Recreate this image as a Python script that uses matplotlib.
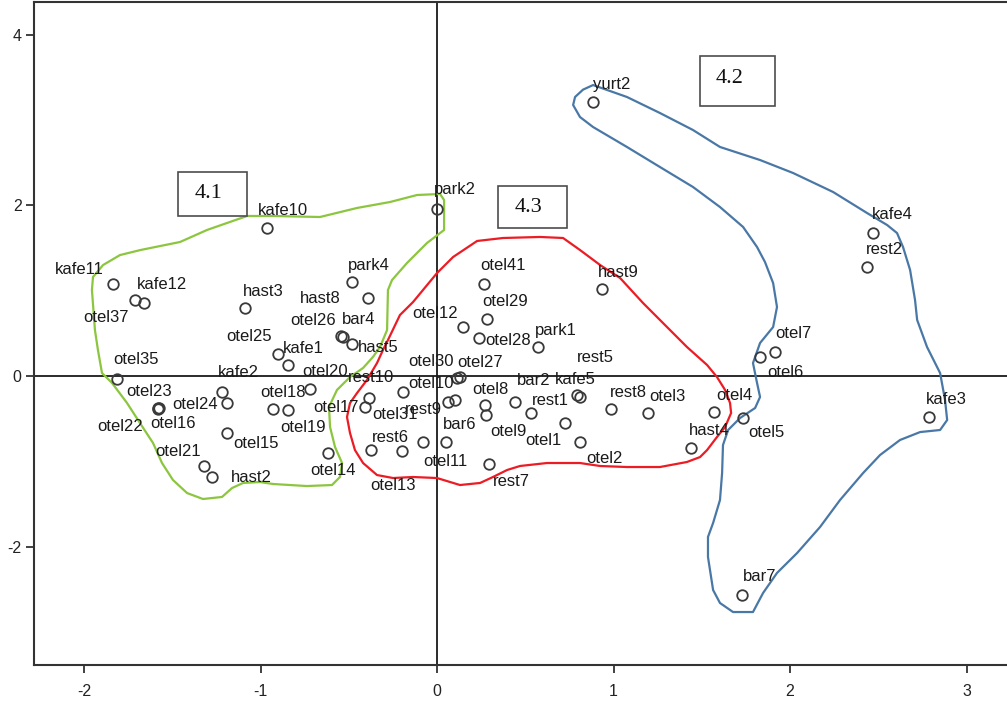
import matplotlib
matplotlib.use("Agg")
import matplotlib.pyplot as plt
import numpy as np
from matplotlib.patches import Rectangle, Polygon

plt.rcParams["font.family"] = ["Liberation Sans", "DejaVu Sans"]
plt.rcParams["axes.unicode_minus"] = False

# point names and coordinates (dimension 1, dimension 2)
names = [
    "kafe11", "otel37", "kafe12", "kafe10", "hast3", "park4", "hast8", "otel26",
    "bar4", "hast5", "otel25", "kafe1", "otel35", "otel23", "otel16", "otel22",
    "kafe2", "otel24", "otel15", "otel21", "hast2", "otel20", "otel18", "otel19",
    "otel14", "otel17",
    "park2", "otel41", "otel29", "otel12", "otel28", "park1", "otel30", "otel27",
    "rest10", "otel10", "otel31", "rest9", "otel8", "bar2", "kafe5", "rest5",
    "rest1", "otel9", "otel1", "rest8", "otel3", "otel4", "hast4", "otel2",
    "rest7", "rest6", "otel13", "otel11", "bar6", "hast9",
    "yurt2", "kafe4", "rest2", "otel7", "otel6", "otel5", "kafe3", "bar7",
]
dim1 = [
    -1.836, -1.711, -1.660, -0.963, -1.088, -0.482, -0.391, -0.544,
    -0.533, -0.482, -0.901, -0.844, -1.813, -1.581, -1.575, -1.581,
    -1.218, -1.190, -1.190, -1.320, -1.275, -0.720, -0.929, -0.844,
    -0.618, -0.408,
    0.000, 0.266, 0.283, 0.147, 0.238, 0.572, 0.113, 0.130,
    -0.385, -0.193, 0.102, 0.062, 0.272, 0.442, 0.793, 0.810,
    0.533, 0.278, 0.725, 0.986, 1.195, 1.569, 1.439, 0.810,
    0.295, -0.374, -0.198, -0.079, 0.051, 0.935,
    0.884, 2.470, 2.436, 1.915, 1.830, 1.734, 2.788, 1.728,
]
dim2 = [
    1.079, 0.891, 0.856, 1.735, 0.797, 1.102, 0.914, 0.469,
    0.457, 0.375, 0.258, 0.129, -0.035, -0.375, -0.375, -0.387,
    -0.188, -0.317, -0.668, -1.055, -1.184, -0.152, -0.387, -0.399,
    -0.903, -0.363,
    1.958, 1.079, 0.668, 0.574, 0.445, 0.340, -0.023, -0.012,
    -0.258, -0.188, -0.281, -0.305, -0.340, -0.305, -0.223, -0.246,
    -0.434, -0.457, -0.551, -0.387, -0.434, -0.422, -0.844, -0.774,
    -1.032, -0.868, -0.879, -0.774, -0.774, 1.020,
    3.212, 1.676, 1.278, 0.281, 0.223, -0.492, -0.481, -2.567,
]

# label placement relative to each point (pixels, left edge / vertical centre)
label_offsets = [
    (-58, 14), (-52, -17), (-7, 18), (-9, 18), (-2, 17), (-4, 17), (-68, 0), (-51, 16),
    (-1, 18), (6, -3), (-52, 17), (-5, 17), (-4, 19), (-32, 16), (-9, -16), (-61, -17),
    (-4, 20), (-55, -1), (6, -11), (-49, 14), (19, 0), (-8, 17), (-13, 17), (-8, -17),
    (-18, -17), (-52, -1),
    (-3, 19), (-4, 18), (-5, 18), (-51, 14), (6, -2), (-3, 17), (-49, 16), (-3, 15),
    (-21, 21), (5, 9), (-83, -15), (-43, -7), (-13, 16), (2, 22), (-22, 16), (-3, 39),
    (1, 13), (4, -17), (-40, -17), (-1, 17), (1, 17), (2, 17), (-2, 18), (6, -16),
    (4, -17), (1, 13), (-32, -35), (0, -19), (-3, 18), (-4, 17),
    (0, 18), (-1, 19), (-1, 17), (0, 19), (7, -16), (5, -15), (-3, 18), (1, 18),
]

# hand-drawn cluster outlines
green_x = [0.017, -0.113, -0.266, -0.453, -0.663, -0.929, -1.076, -1.303, -1.456, -1.680,
           -1.796, -1.892, -1.949, -1.955, -1.938, -1.921, -1.898, -1.841, -1.756, -1.683,
           -1.609, -1.558, -1.496, -1.416, -1.326, -1.218, -1.161, -1.099, -1.003, -0.929,
           -0.737, -0.595, -0.550, -0.538, -0.578, -0.606, -0.612, -0.567, -0.493, -0.419,
           -0.363, -0.323, -0.283, -0.278, -0.255, -0.170, -0.057, 0.040, 0.040]
green_y = [2.134, 2.122, 2.040, 1.970, 1.864, 1.876, 1.876, 1.712, 1.571, 1.477,
           1.418, 1.301, 1.161, 1.008, 0.539, 0.305, 0.035, -0.082, -0.317, -0.551,
           -0.785, -1.020, -1.219, -1.372, -1.442, -1.418, -1.313, -1.254, -1.243, -1.266,
           -1.290, -1.278, -1.184, -1.020, -0.832, -0.598, -0.363, -0.164, -0.012, 0.094,
           0.223, 0.340, 0.539, 1.008, 1.125, 1.325, 1.559, 1.712, 2.063]

red_x = [-0.278, -0.210, -0.136, 0.000, 0.091, 0.227, 0.374, 0.584, 0.714, 0.810,
         0.924, 1.037, 1.167, 1.303, 1.416, 1.530, 1.586, 1.632, 1.660, 1.666,
         1.632, 1.586, 1.530, 1.490, 1.416, 1.263, 1.076, 0.924, 0.810, 0.623,
         0.470, 0.397, 0.317, 0.244, 0.130, 0.000, -0.136, -0.249, -0.340, -0.419,
         -0.465, -0.493, -0.510, -0.493, -0.453, -0.397, -0.340, -0.306]
red_y = [0.422, 0.715, 0.867, 1.207, 1.395, 1.583, 1.618, 1.630, 1.618, 1.477,
         1.301, 1.149, 0.856, 0.574, 0.340, 0.129, -0.012, -0.164, -0.317, -0.434,
         -0.598, -0.715, -0.868, -0.950, -1.008, -1.067, -1.067, -1.055, -1.020, -1.020,
         -1.055, -1.102, -1.184, -1.254, -1.278, -1.196, -1.184, -1.196, -1.161, -1.020,
         -0.868, -0.668, -0.481, -0.317, -0.199, -0.047, 0.152, 0.305]

blue_x = [0.884, 1.076, 1.263, 1.450, 1.603, 1.830, 2.017, 2.244, 2.436, 2.550,
          2.606, 2.640, 2.680, 2.708, 2.720, 2.776, 2.850, 2.878, 2.890, 2.850,
          2.737, 2.623, 2.510, 2.414, 2.283, 2.170, 2.040, 1.926, 1.847, 1.790,
          1.677, 1.603, 1.564, 1.535, 1.535, 1.564, 1.603, 1.615, 1.620, 1.649,
          1.717, 1.802, 1.830, 1.813, 1.790, 1.830, 1.904, 1.926, 1.904, 1.858,
          1.813, 1.734, 1.603, 1.450, 1.263, 1.076, 0.884, 0.810, 0.771, 0.782, 0.827]
blue_y = [3.411, 3.271, 3.083, 2.884, 2.685, 2.532, 2.380, 2.157, 1.911, 1.770,
          1.676, 1.512, 1.243, 0.891, 0.657, 0.340, 0.035, -0.281, -0.516, -0.633,
          -0.657, -0.750, -0.926, -1.137, -1.454, -1.770, -2.075, -2.309, -2.544, -2.767,
          -2.767, -2.661, -2.509, -2.122, -1.887, -1.723, -1.454, -1.137, -0.809, -0.633,
          -0.492, -0.375, -0.246, -0.082, 0.152, 0.387, 0.574, 0.809, 1.090, 1.336,
          1.512, 1.747, 1.981, 2.216, 2.450, 2.685, 2.919, 3.036, 3.177, 3.271, 3.357]

cluster_names = ["4.1", "4.2", "4.3"]
cluster_boxes = [(-1.467, 1.876, 0.391, 0.516), (1.490, 3.165, 0.425, 0.586), (0.346, 1.735, 0.391, 0.492)]
cluster_text_pos = [(-1.292, 2.134), (1.660, 3.482), (0.521, 1.970)]


fig = plt.figure(figsize=(10.07, 7.02), dpi=100)
ax = fig.add_axes([0.0338, 0.0527, 0.9662, 0.9445])
ax.set_xlim(-2.283, 3.229)
ax.set_ylim(-3.388, 4.385)

ax.axhline(0, color="#1a1a1a", lw=1.3, zorder=1)
ax.axvline(0, color="#1a1a1a", lw=1.3, zorder=1)

for xs, ys, col in [(green_x, green_y, "#8cc63f"), (red_x, red_y, "#ec1c24"), (blue_x, blue_y, "#4a78a6")]:
    ax.add_patch(Polygon(np.column_stack([xs, ys]), closed=True, fill=False,
                         edgecolor=col, lw=1.6, joinstyle="round", zorder=2))

ax.plot(dim1, dim2, "o", ms=7.6, mfc="none", mec="#3a3a3a", mew=1.3, zorder=3)

for name, x, y, (dx, dy) in zip(names, dim1, dim2, label_offsets):
    ax.annotate(name, (x, y), xytext=(dx, dy), textcoords="offset pixels",
                ha="left", va="center", fontsize=12, color="#1a1a1a", zorder=4)

for txt, (bx, by, bw, bh), (tx, ty) in zip(cluster_names, cluster_boxes, cluster_text_pos):
    ax.add_patch(Rectangle((bx, by), bw, bh, fill=True, facecolor="white",
                           edgecolor="#4d4d4d", lw=1.2, zorder=5))
    ax.text(tx, ty, txt, ha="center", va="center", fontsize=16,
            family="Liberation Serif", color="#111111", zorder=6)

ax.set_xticks([-2, -1, 0, 1, 2, 3])
ax.set_yticks([-2, 0, 2, 4])
ax.tick_params(direction="out", length=6, width=1.3, colors="#333333",
               labelsize=11.5, labelcolor="#222222")
ax.tick_params(axis="x", pad=8)
ax.tick_params(axis="y", pad=3)
for side in ["left", "bottom", "top"]:
    ax.spines[side].set_color("#333333")
    ax.spines[side].set_linewidth(1.5)
ax.spines["right"].set_visible(False)

fig.savefig("out.png", dpi=100)
